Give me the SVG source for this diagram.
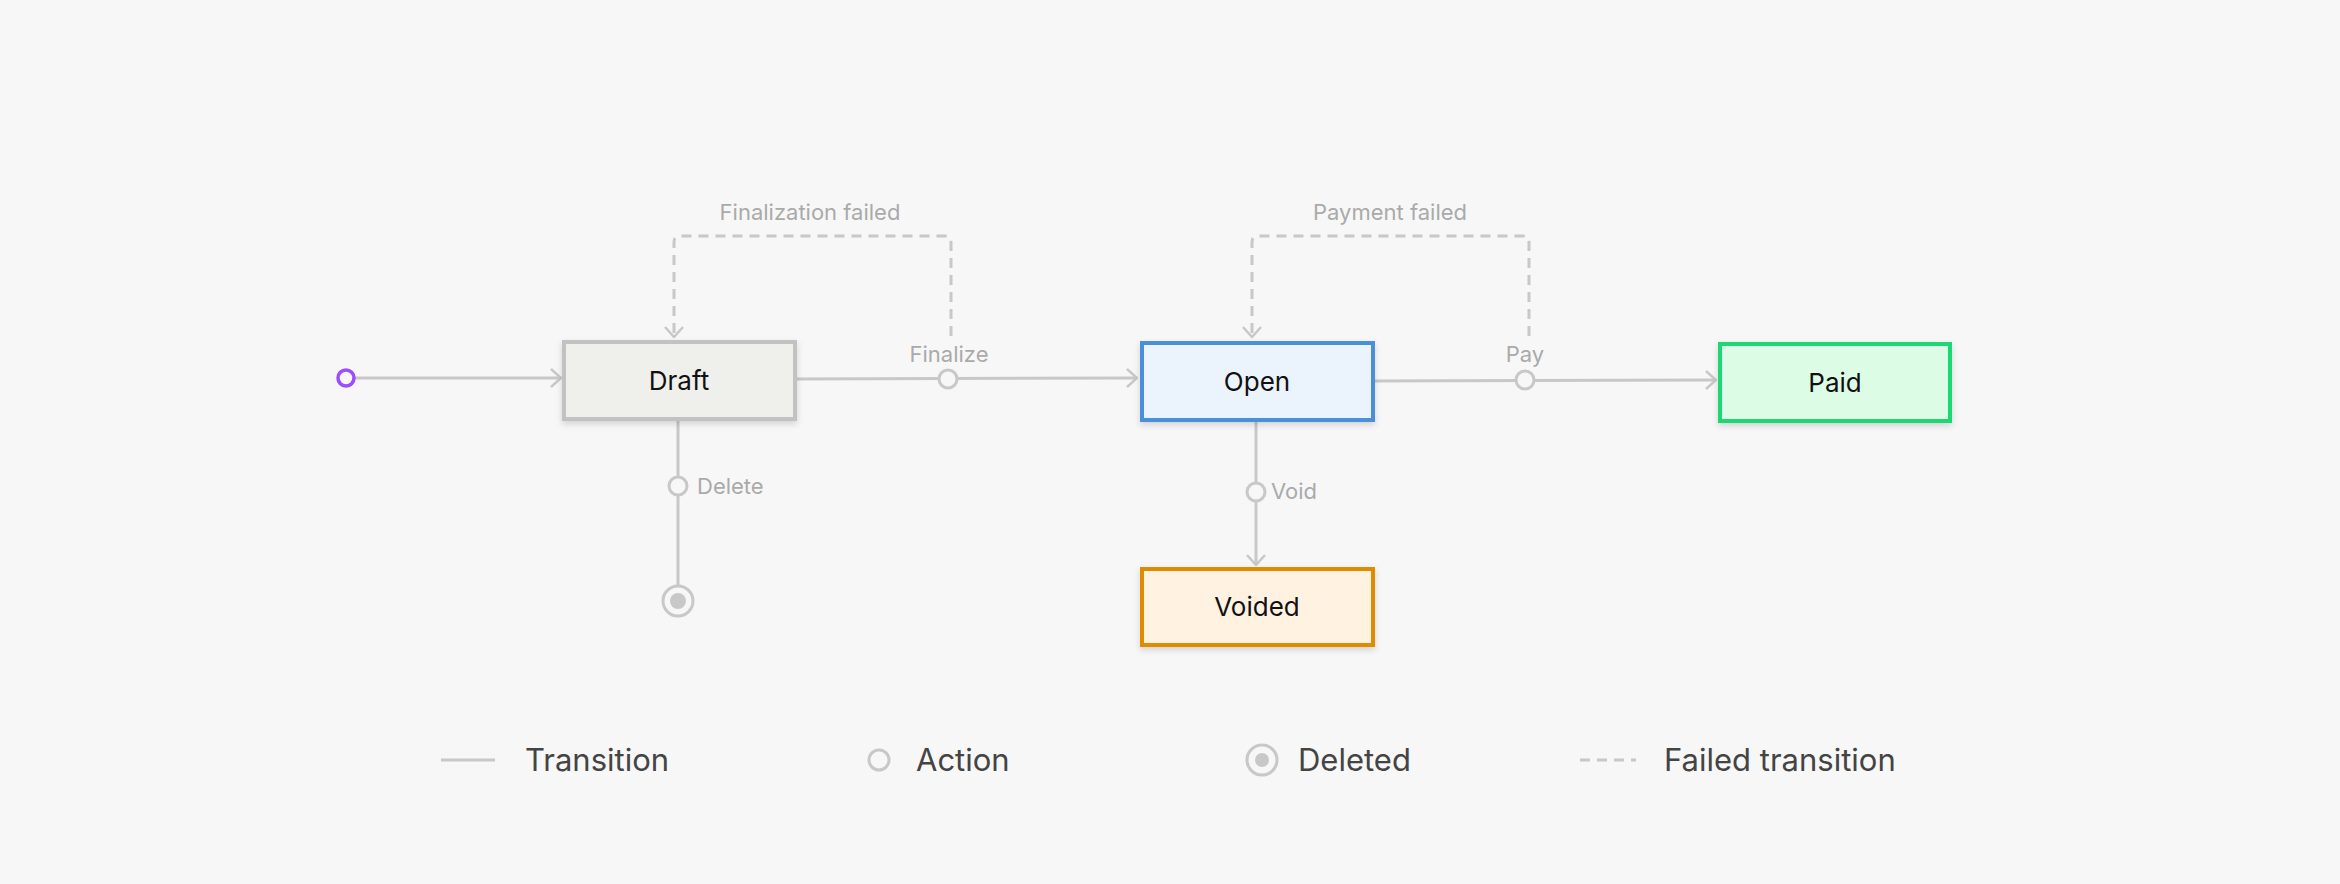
<svg xmlns="http://www.w3.org/2000/svg" width="2340" height="884" viewBox="0 0 2340 884">
<style>
.node{stroke-width:4}
.nt{font-family:Inter,"Liberation Sans",sans-serif;font-size:26px;fill:#111;text-anchor:middle}
.lbl{font-family:Inter,"Liberation Sans",sans-serif;font-size:22px;fill:#aaa}
.leg{font-family:Inter,"Liberation Sans",sans-serif;font-size:31px;fill:#444}
.ln{stroke:#c8c8c8;stroke-width:3;fill:none}
.dash{stroke:#c8c8c8;stroke-width:3;fill:none;stroke-dasharray:10 7}
.act{fill:#f7f7f7;stroke:#c8c8c8;stroke-width:3}
</style>
<defs>
<marker id="ar" viewBox="0 0 12 20" refX="11" refY="10" markerWidth="12" markerHeight="20" markerUnits="userSpaceOnUse" orient="auto"><path d="M1 1 L11 10 L1 19" fill="none" stroke="#c8c8c8" stroke-width="2.5"/></marker>
<filter id="sh" x="-10%" y="-10%" width="120%" height="140%"><feDropShadow dx="0" dy="3" stdDeviation="3" flood-color="#000" flood-opacity="0.15"/></filter>
</defs>
<rect width="2340" height="884" fill="#f7f7f7"/>
<g id="connectors">
<path class="ln" d="M354 378 H561" marker-end="url(#ar)"/>
<path class="ln" d="M797 379 L1137 378" marker-end="url(#ar)"/>
<path class="ln" d="M1375 381 L1716 380" marker-end="url(#ar)"/>
<path class="ln" d="M678 421 V585"/>
<path class="ln" d="M1256 422 V565" marker-end="url(#ar)"/>
<path class="dash" d="M951 336 V242 Q951 236 945 236 H680 Q674 236 674 242 V337" marker-end="url(#ar)"/>
<path class="dash" d="M1529 336 V242 Q1529 236 1523 236 H1258 Q1252 236 1252 242 V337" marker-end="url(#ar)"/>
<circle class="act" cx="948" cy="379" r="9"/>
<circle class="act" cx="1525" cy="380" r="9"/>
<circle class="act" cx="678" cy="486" r="9"/>
<circle class="act" cx="1256" cy="492" r="9"/>
<text class="lbl" x="949" y="362" text-anchor="middle">Finalize</text>
<text class="lbl" x="1525" y="362" text-anchor="middle">Pay</text>
<text class="lbl" x="697" y="494">Delete</text>
<text class="lbl" x="1271" y="499">Void</text>
<text class="lbl" x="810" y="220" text-anchor="middle">Finalization failed</text>
<text class="lbl" x="1390" y="220" text-anchor="middle">Payment failed</text>
</g>
<g id="start"><circle cx="346" cy="378" r="8" fill="#f7f7f7" stroke="#9b4dff" stroke-width="3.5"/></g>
<g id="draft"><rect class="node" x="564" y="342" width="231" height="77" fill="#efefeb" stroke="#c2c2c2" filter="url(#sh)"/><text class="nt" x="679" y="390">Draft</text></g>
<g id="open"><rect class="node" x="1142" y="343" width="231" height="77" fill="#ebf3fd" stroke="#4a90d9" filter="url(#sh)"/><text class="nt" x="1257" y="391">Open</text></g>
<g id="paid"><rect class="node" x="1720" y="344" width="230" height="77" fill="#dcfce6" stroke="#1fd872" filter="url(#sh)"/><text class="nt" x="1835" y="392">Paid</text></g>
<g id="voided"><rect class="node" x="1142" y="569" width="231" height="76" fill="#fff2e0" stroke="#e08c00" filter="url(#sh)"/><text class="nt" x="1257" y="616">Voided</text></g>
<g id="deleted"><circle cx="678" cy="601" r="15" fill="#f7f7f7" stroke="#c8c8c8" stroke-width="3"/><circle cx="678" cy="601" r="8" fill="#c8c8c8"/></g>
<g id="legend">
<path class="ln" d="M441 760 H495"/>
<text class="leg" x="525" y="771">Transition</text>
<circle class="act" cx="879" cy="760" r="10"/>
<text class="leg" x="916" y="771">Action</text>
<circle cx="1262" cy="760" r="15" fill="#f7f7f7" stroke="#c8c8c8" stroke-width="3"/><circle cx="1262" cy="760" r="7" fill="#c8c8c8"/>
<text class="leg" x="1298" y="771">Deleted</text>
<path class="dash" d="M1580 760 H1636" stroke-dasharray="8 6"/>
<text class="leg" x="1664" y="771">Failed transition</text>
</g>
</svg>
